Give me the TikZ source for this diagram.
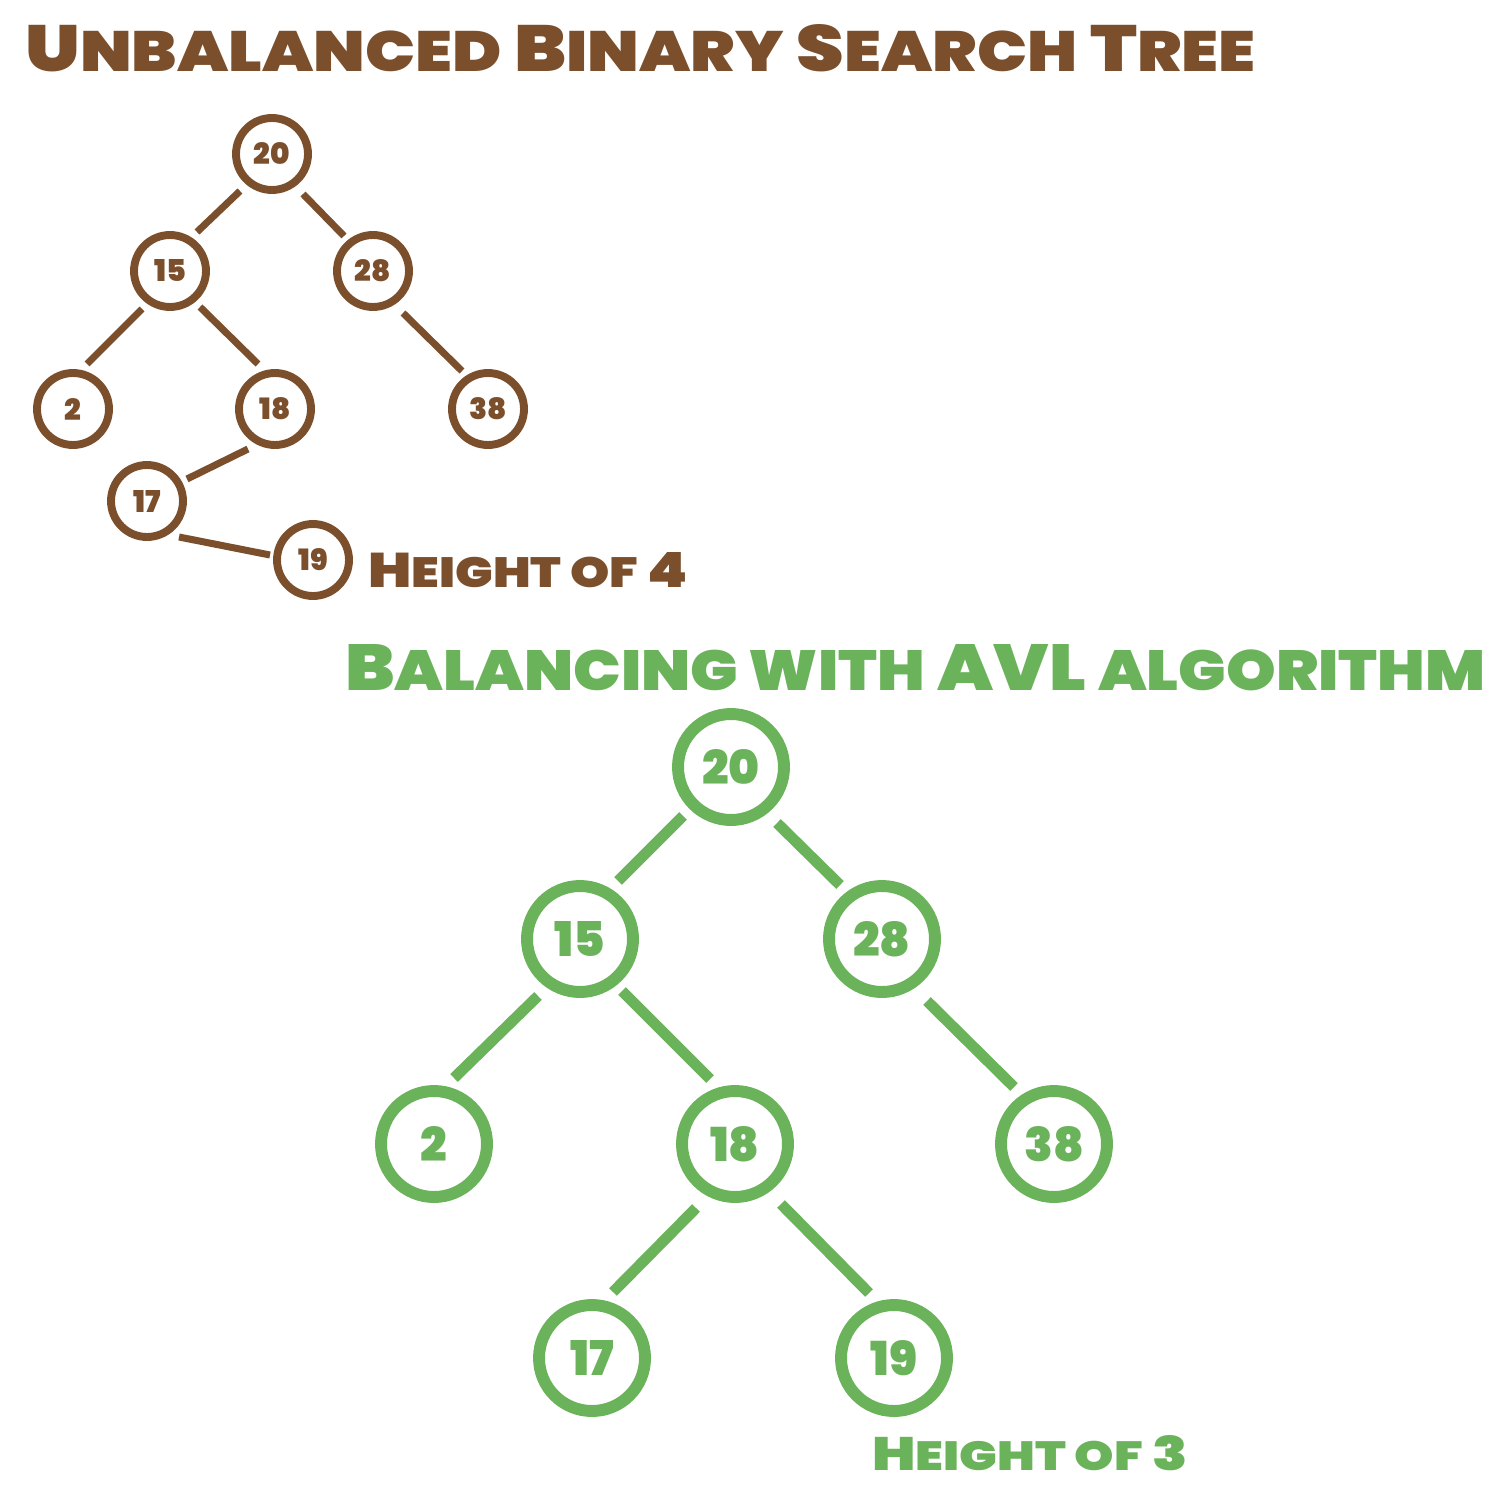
\documentclass[tikz,border=0pt]{standalone}
\usepackage{fontspec}
\usepackage{graphicx}
\newfontfamily\disp{Poppins Black}
\definecolor{brn}{HTML}{7B4F2C}
\definecolor{grn}{HTML}{6BB35B}
\newcommand\smc[1]{\scalebox{0.87}{#1}}
\newcommand\bnum[1]{\resizebox{!}{0.44cm}{\disp #1}}
\newcommand\gnum[1]{\resizebox{!}{0.7cm}{\disp #1}}
\begin{document}
\begin{tikzpicture}[x=0.02cm,y=-0.02cm,
  bnode/.style={circle,draw=brn,line width=4.5pt,minimum size=1.44cm,inner sep=0pt,text=brn},
  gnode/.style={circle,draw=grn,line width=6.8pt,minimum size=2.12cm,inner sep=0pt,text=grn},
  bedge/.style={draw=brn,line width=4pt},
  gedge/.style={draw=grn,line width=6.2pt},
  ttl/.style={inner sep=0pt,anchor=base west}]
\useasboundingbox (0,0) rectangle (1500,1500);

% titles
\node[ttl,text=brn] (t1) at (25,72) {\resizebox{24.6cm}{0.94cm}{\disp U\smc{NBALANCED} B\smc{INARY} S\smc{EARCH} T\smc{REE}}};
\node[ttl,text=brn] (h4) at (368,587) {\resizebox{6.4cm}{0.7cm}{\disp H\smc{EIGHT OF} 4}};
\node[ttl,text=grn] (t2) at (345,690) {\resizebox{22.8cm}{0.92cm}{\disp B\smc{ALANCING WITH} AVL \smc{ALGORITHM}}};
\node[ttl,text=grn] (h3) at (872,1470) {\resizebox{6.32cm}{0.7cm}{\disp H\smc{EIGHT OF} 3}};

% unbalanced tree
\node[bnode] (b20) at (272,154) {\bnum{20}};
\node[bnode] (b15) at (170,271) {\bnum{15}};
\node[bnode] (b28) at (373,271) {\bnum{28}};
\node[bnode] (b2)  at (73,409)  {\bnum{2}};
\node[bnode] (b18) at (275,409) {\bnum{18}};
\node[bnode] (b38) at (488,409) {\bnum{38}};
\node[bnode] (b17) at (147,501) {\bnum{17}};
\node[bnode] (b19) at (313,560) {\bnum{19}};
\draw[bedge] ([shift={(-32,37)}]b20.center) -- ([shift={(27,-39)}]b15.center);
\draw[bedge] ([shift={(31,40)}]b20.center) -- ([shift={(-29,-35)}]b28.center);
\draw[bedge] ([shift={(-28,38)}]b15.center) -- ([shift={(14,-45)}]b2.center);
\draw[bedge] ([shift={(30,36)}]b15.center) -- ([shift={(-17,-45)}]b18.center);
\draw[bedge] ([shift={(30,42)}]b28.center) -- ([shift={(-26,-38)}]b38.center);
\draw[bedge] ([shift={(-27,40)}]b18.center) -- ([shift={(40,-22)}]b17.center);
\draw[bedge] ([shift={(32,36)}]b17.center) -- ([shift={(-43,-5)}]b19.center);

% balanced tree
\node[gnode] (g20) at (731,767)  {\gnum{20}};
\node[gnode] (g15) at (580,939)  {\gnum{15}};
\node[gnode] (g28) at (882,939)  {\gnum{28}};
\node[gnode] (g2)  at (434,1144) {\gnum{2}};
\node[gnode] (g18) at (735,1144) {\gnum{18}};
\node[gnode] (g38) at (1054,1144) {\gnum{38}};
\node[gnode] (g17) at (592,1358) {\gnum{17}};
\node[gnode] (g19) at (894,1358) {\gnum{19}};
\draw[gedge] ([shift={(-48,49)}]g20.center) -- ([shift={(38,-58)}]g15.center);
\draw[gedge] ([shift={(46,56)}]g20.center) -- ([shift={(-42,-54)}]g28.center);
\draw[gedge] ([shift={(-42,57)}]g15.center) -- ([shift={(20,-66)}]g2.center);
\draw[gedge] ([shift={(42,52)}]g15.center) -- ([shift={(-25,-65)}]g18.center);
\draw[gedge] ([shift={(45,62)}]g28.center) -- ([shift={(-40,-57)}]g38.center);
\draw[gedge] ([shift={(-39,64)}]g18.center) -- ([shift={(21,-66)}]g17.center);
\draw[gedge] ([shift={(46,60)}]g18.center) -- ([shift={(-25,-65)}]g19.center);
\end{tikzpicture}
\end{document}
